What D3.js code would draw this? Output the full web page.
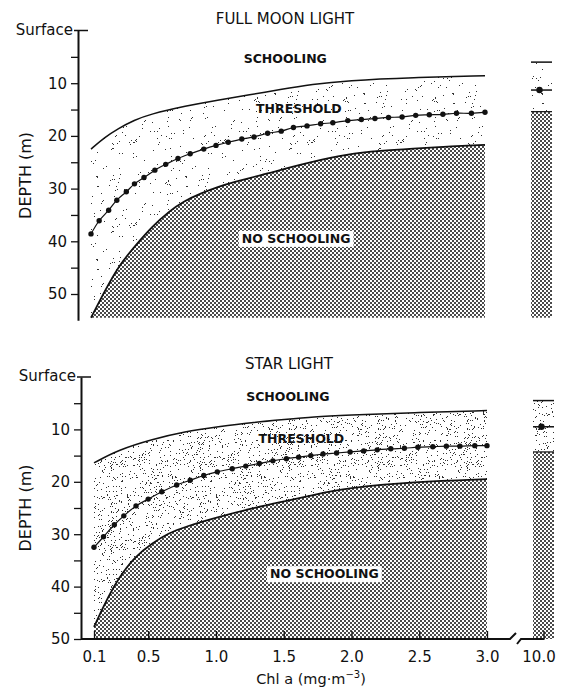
<!DOCTYPE html>
<html>
<head>
<meta charset="utf-8">
<script src="https://cdn.jsdelivr.net/npm/d3@7"></script>
<style>
  body { margin: 0; background: #fff; }
  svg { display: block; }
  text { font-family: "DejaVu Sans", sans-serif; fill: #111; }
</style>
</head>
<body>
<svg id="chart" width="562" height="691"></svg>
<script>
// x axis (Chl a, mg m-3)
const chlTicks = [0.1, 0.5, 1.0, 1.5, 2.0, 2.5, 3.0];
const chlTickLabels = ["0.1", "0.5", "1.0", "1.5", "2.0", "2.5", "3.0"];
const depthTicks = [5, 10, 15, 20, 25, 30, 35, 40, 45, 50];

// full moon light
const moonUpperChl   = [0.1, 0.2, 0.3, 0.42, 0.53, 0.8, 1.03, 1.27, 1.49, 1.73, 1.98, 2.47, 3.0];
const moonUpperDepth = [22.5, 20.3, 18.6, 17.0, 15.9, 14.3, 13.2, 12.2, 11.2, 10.2, 9.5, 8.9, 8.6];
const moonLowerChl   = [0.1, 0.2, 0.3, 0.42, 0.55, 0.67, 0.79, 0.91, 1.04, 1.16, 1.28, 1.41, 1.53, 1.74, 1.98, 2.23, 2.47, 2.72, 3.0];
const moonLowerDepth = [54.5, 49.5, 44.8, 41.0, 37.2, 34.4, 32.3, 30.9, 29.6, 28.7, 27.9, 27.1, 26.2, 24.8, 23.5, 22.8, 22.4, 22.0, 21.7];
const moonThreshChl  = [0.1, 0.16, 0.23, 0.29, 0.36, 0.42, 0.49, 0.57, 0.65, 0.74, 0.83, 0.93, 1.02, 1.11, 1.21, 1.3, 1.4, 1.5,
                        1.59, 1.69, 1.79, 1.88, 1.99, 2.09, 2.19, 2.29, 2.39, 2.49, 2.59, 2.69, 2.79, 2.9, 3.0];
const moonThreshDepth = [38.6, 36.1, 34.1, 32.2, 30.6, 29.1, 27.9, 26.5, 25.4, 24.3, 23.4, 22.5, 21.8, 21.2, 20.6, 20.2, 19.5, 19.1,
                         18.4, 18.1, 17.7, 17.5, 17.1, 16.9, 16.7, 16.5, 16.4, 16.1, 16.0, 15.9, 15.7, 15.7, 15.5];
const moonColumn = [6.0, 11.3, 15.4];   // schooling limit, threshold, no-schooling limit at 10.0

// star light
const starUpperChl   = [0.1, 0.28, 0.53, 0.77, 1.02, 1.26, 1.51, 1.72, 1.96, 2.46, 3.0];
const starUpperDepth = [16.4, 13.9, 11.9, 10.4, 9.5, 8.7, 8.1, 7.6, 7.3, 6.8, 6.4];
const starLowerChl   = [0.1, 0.18, 0.28, 0.4, 0.53, 0.65, 0.77, 1.02, 1.26, 1.51, 1.72, 1.96, 2.46, 3.0];
const starLowerDepth = [47.7, 43.2, 38.4, 34.3, 31.7, 29.8, 28.6, 26.7, 25.1, 23.7, 22.5, 21.2, 20.0, 19.5];
const starThreshChl  = [0.1, 0.17, 0.25, 0.32, 0.41, 0.5, 0.6, 0.71, 0.81, 0.91, 1.01, 1.12, 1.22, 1.32, 1.42, 1.52,
                        1.61, 1.7, 1.79, 1.89, 1.99, 2.09, 2.19, 2.29, 2.39, 2.49, 2.6, 2.7, 2.8, 2.91, 3.0];
const starThreshDepth = [32.5, 30.5, 28.2, 26.5, 24.6, 23.3, 21.9, 20.6, 19.7, 18.8, 18.1, 17.5, 17.0, 16.5, 16.0, 15.6,
                         15.3, 15.0, 14.7, 14.5, 14.3, 14.1, 13.9, 13.7, 13.6, 13.4, 13.3, 13.2, 13.2, 13.1, 13.1];
const starColumn = [4.5, 9.5, 14.3];

const svg = d3.select("#chart");
const defs = svg.append("defs");

// halftone for the "no schooling" zone
const ht = defs.append("pattern").attr("id", "halftone")
  .attr("patternUnits", "userSpaceOnUse").attr("width", 4).attr("height", 4);
ht.append("rect").attr("width", 4).attr("height", 4).attr("fill", "#fff");
ht.append("rect").attr("x", 0).attr("y", 0).attr("width", 2).attr("height", 2).attr("fill", "#4a4a4a");
ht.append("rect").attr("x", 2).attr("y", 2).attr("width", 2).attr("height", 2).attr("fill", "#4a4a4a");

// light stipple for the threshold zone (fixed texture)
function stipple(id, count, seed) {
  const w = 89, h = 83;
  const p = defs.append("pattern").attr("id", id)
    .attr("patternUnits", "userSpaceOnUse").attr("width", w).attr("height", h);
  let s = seed;
  const next = () => (s = (s * 16807) % 2147483647) / 2147483647;
  for (let i = 0; i < count; i++) {
    p.append("rect")
      .attr("x", Math.floor(next() * w)).attr("y", Math.floor(next() * h))
      .attr("width", 1).attr("height", 1).attr("fill", "#333");
  }
}
stipple("stippleMoon", 130, 12345);
stipple("stippleStar", 520, 54321);

function label(g, txt, x, y, size, weight, anchor) {
  return g.append("text").attr("x", x).attr("y", y)
    .attr("font-size", size).attr("font-weight", weight || "normal")
    .attr("text-anchor", anchor || "middle").text(txt);
}

function drawPanel(cfg) {
  const g = svg.append("g");
  const y = d3.scaleLinear().domain([0, cfg.axisMax]).range([cfg.top, cfg.top + cfg.axisMax * cfg.pxPerM]);
  const x = d3.scaleLinear().domain([0.1, 3.0]).range(cfg.xRange);
  const xc = d3.scaleLinear().domain([9.75, 10.25]).range(cfg.colRange);

  const upper = d3.zip(cfg.upperChl, cfg.upperDepth);
  const lower = d3.zip(cfg.lowerChl, cfg.lowerDepth);
  const thresh = d3.zip(cfg.threshChl, cfg.threshDepth);

  const smooth = d3.line().x(d => x(d[0])).y(d => y(d[1])).curve(d3.curveBasis);
  const line = d3.line().x(d => x(d[0])).y(d => y(d[1])).curve(d3.curveCatmullRom);
  const area = d3.area().x(d => x(d[0])).y0(y(cfg.plotMax)).y1(d => y(d[1])).curve(d3.curveBasis);

  g.append("path").datum(upper).attr("d", area).attr("fill", `url(#${cfg.stipple})`);
  g.append("path").datum(lower).attr("d", area).attr("fill", "url(#halftone)");

  g.append("path").datum(upper).attr("d", smooth)
    .attr("fill", "none").attr("stroke", "#111").attr("stroke-width", 1.5);
  g.append("path").datum(lower).attr("d", smooth)
    .attr("fill", "none").attr("stroke", "#111").attr("stroke-width", 1.8);
  g.append("path").datum(thresh).attr("d", line)
    .attr("fill", "none").attr("stroke", "#111").attr("stroke-width", 1.2);
  g.selectAll("circle.th").data(thresh).join("circle").attr("class", "th")
    .attr("cx", d => x(d[0])).attr("cy", d => y(d[1])).attr("r", 2.7).attr("fill", "#111");

  // 10.0 column
  const [c0, c1] = xc.range();
  const col = cfg.column;
  g.append("rect").attr("x", c0).attr("width", c1 - c0)
    .attr("y", y(col[0])).attr("height", y(col[2]) - y(col[0]))
    .attr("fill", `url(#${cfg.stipple})`);
  g.append("rect").attr("x", c0).attr("width", c1 - c0)
    .attr("y", y(col[2])).attr("height", y(cfg.plotMax) - y(col[2]))
    .attr("fill", "url(#halftone)");
  col.forEach((d, i) => {
    g.append("line").attr("x1", c0).attr("x2", c1).attr("y1", y(d)).attr("y2", y(d))
      .attr("stroke", "#111").attr("stroke-width", i === 2 ? 1.2 : 1.5);
  });
  g.append("circle").attr("cx", xc(10) - 2).attr("cy", y(col[1])).attr("r", 3.2).attr("fill", "#111");

  // y axis
  const yAxis = g.append("g").attr("transform", `translate(${cfg.axisX},0)`)
    .call(d3.axisLeft(y).tickValues(depthTicks).tickSize(7).tickSizeOuter(0).tickPadding(4)
      .tickFormat(d => d % 10 === 0 ? d : ""));
  yAxis.select(".domain").attr("stroke", "#111").attr("stroke-width", 2);
  yAxis.selectAll(".tick line").attr("stroke", "#111").attr("stroke-width", 1.3);
  yAxis.selectAll(".tick text").attr("font-size", 15).attr("font-family", "DejaVu Sans, sans-serif").attr("fill", "#111");
  g.append("line").attr("x1", cfg.axisX - 4).attr("x2", cfg.axisX + 10)
    .attr("y1", y(0)).attr("y2", y(0)).attr("stroke", "#111").attr("stroke-width", 1.5);
  label(g, "Surface", cfg.axisX - 5, y(0) + 4, 15, "normal", "end");
  g.append("text").attr("transform", `translate(31,${(y.range()[0] + y.range()[1]) / 2}) rotate(-90)`)
    .attr("font-size", 16).attr("text-anchor", "middle").text("DEPTH (m)");

  // titles and zone labels
  label(g, cfg.title, cfg.titlePos[0], cfg.titlePos[1], 15);
  label(g, "SCHOOLING", x(cfg.schoolPos[0]), y(cfg.schoolPos[1]), 12.5, "bold");
  label(g, "THRESHOLD", x(cfg.threshPos[0]), y(cfg.threshPos[1]), 12.5, "bold");
  const ns = label(g, "NO SCHOOLING", x(cfg.noSchoolPos[0]), y(cfg.noSchoolPos[1]), 12.5, "bold");
  const bb = ns.node().getBBox();
  g.insert("rect", () => ns.node())
    .attr("x", bb.x - 3).attr("y", bb.y).attr("width", bb.width + 6).attr("height", bb.height + 1)
    .attr("fill", "#fff");

  return { g, x, y, xc };
}

drawPanel({
  top: 30.5, pxPerM: 5.27, axisMax: 55, plotMax: 54.5, axisX: 78,
  xRange: [91, 485], colRange: [531, 552],
  upperChl: moonUpperChl, upperDepth: moonUpperDepth,
  lowerChl: moonLowerChl, lowerDepth: moonLowerDepth,
  threshChl: moonThreshChl, threshDepth: moonThreshDepth,
  column: moonColumn, stipple: "stippleMoon",
  title: "FULL MOON LIGHT", titlePos: [285, 24],
  schoolPos: [1.53, 6.2], threshPos: [1.63, 15.6], noSchoolPos: [1.61, 40.3]
});

const star = drawPanel({
  top: 377, pxPerM: 5.24, axisMax: 50, plotMax: 50, axisX: 81,
  xRange: [94, 487], colRange: [533, 554],
  upperChl: starUpperChl, upperDepth: starUpperDepth,
  lowerChl: starLowerChl, lowerDepth: starLowerDepth,
  threshChl: starThreshChl, threshDepth: starThreshDepth,
  column: starColumn, stipple: "stippleStar",
  title: "STAR LIGHT", titlePos: [289, 369],
  schoolPos: [1.53, 4.5], threshPos: [1.63, 12.6], noSchoolPos: [1.80, 38.4]
});

// x axis with break before 10.0
const base = star.y(50);
const xAxis = star.g.append("g").attr("transform", `translate(0,${base})`)
  .call(d3.axisBottom(star.x).tickValues(chlTicks).tickSize(-8).tickPadding(12)
    .tickFormat((d, i) => chlTickLabels[i]));
xAxis.select(".domain").remove();
const colAxis = star.g.append("g").attr("transform", `translate(0,${base})`)
  .call(d3.axisBottom(star.xc).tickValues([10]).tickSize(-8).tickPadding(12).tickFormat(() => "10.0"));
colAxis.select(".domain").remove();
colAxis.select(".tick text").attr("dx", -5);
star.g.selectAll(".tick line").attr("stroke", "#111").attr("stroke-width", 1.3);
xAxis.selectAll(".tick text").attr("font-size", 15);
colAxis.selectAll(".tick text").attr("font-size", 15);
star.g.selectAll("g.tick text").attr("font-family", "DejaVu Sans, sans-serif").attr("fill", "#111");

const brk = star.x(3.0) + 23;
star.g.append("path")
  .attr("d", `M${81},${base}H${brk}l6,-6`)
  .attr("fill", "none").attr("stroke", "#111").attr("stroke-width", 2);
star.g.append("path")
  .attr("d", `M${brk + 7},${base + 5}l4,-5H${star.xc(10) + 1}`)
  .attr("fill", "none").attr("stroke", "#111").attr("stroke-width", 2);

const xl = star.g.append("text").attr("x", 311).attr("y", 684)
  .attr("font-size", 14.5).attr("text-anchor", "middle");
xl.append("tspan").text("Chl a (mg·m");
xl.append("tspan").attr("font-size", 10).attr("dy", -6).text("−3");
xl.append("tspan").attr("dy", 6).text(")");
</script>
</body>
</html>
